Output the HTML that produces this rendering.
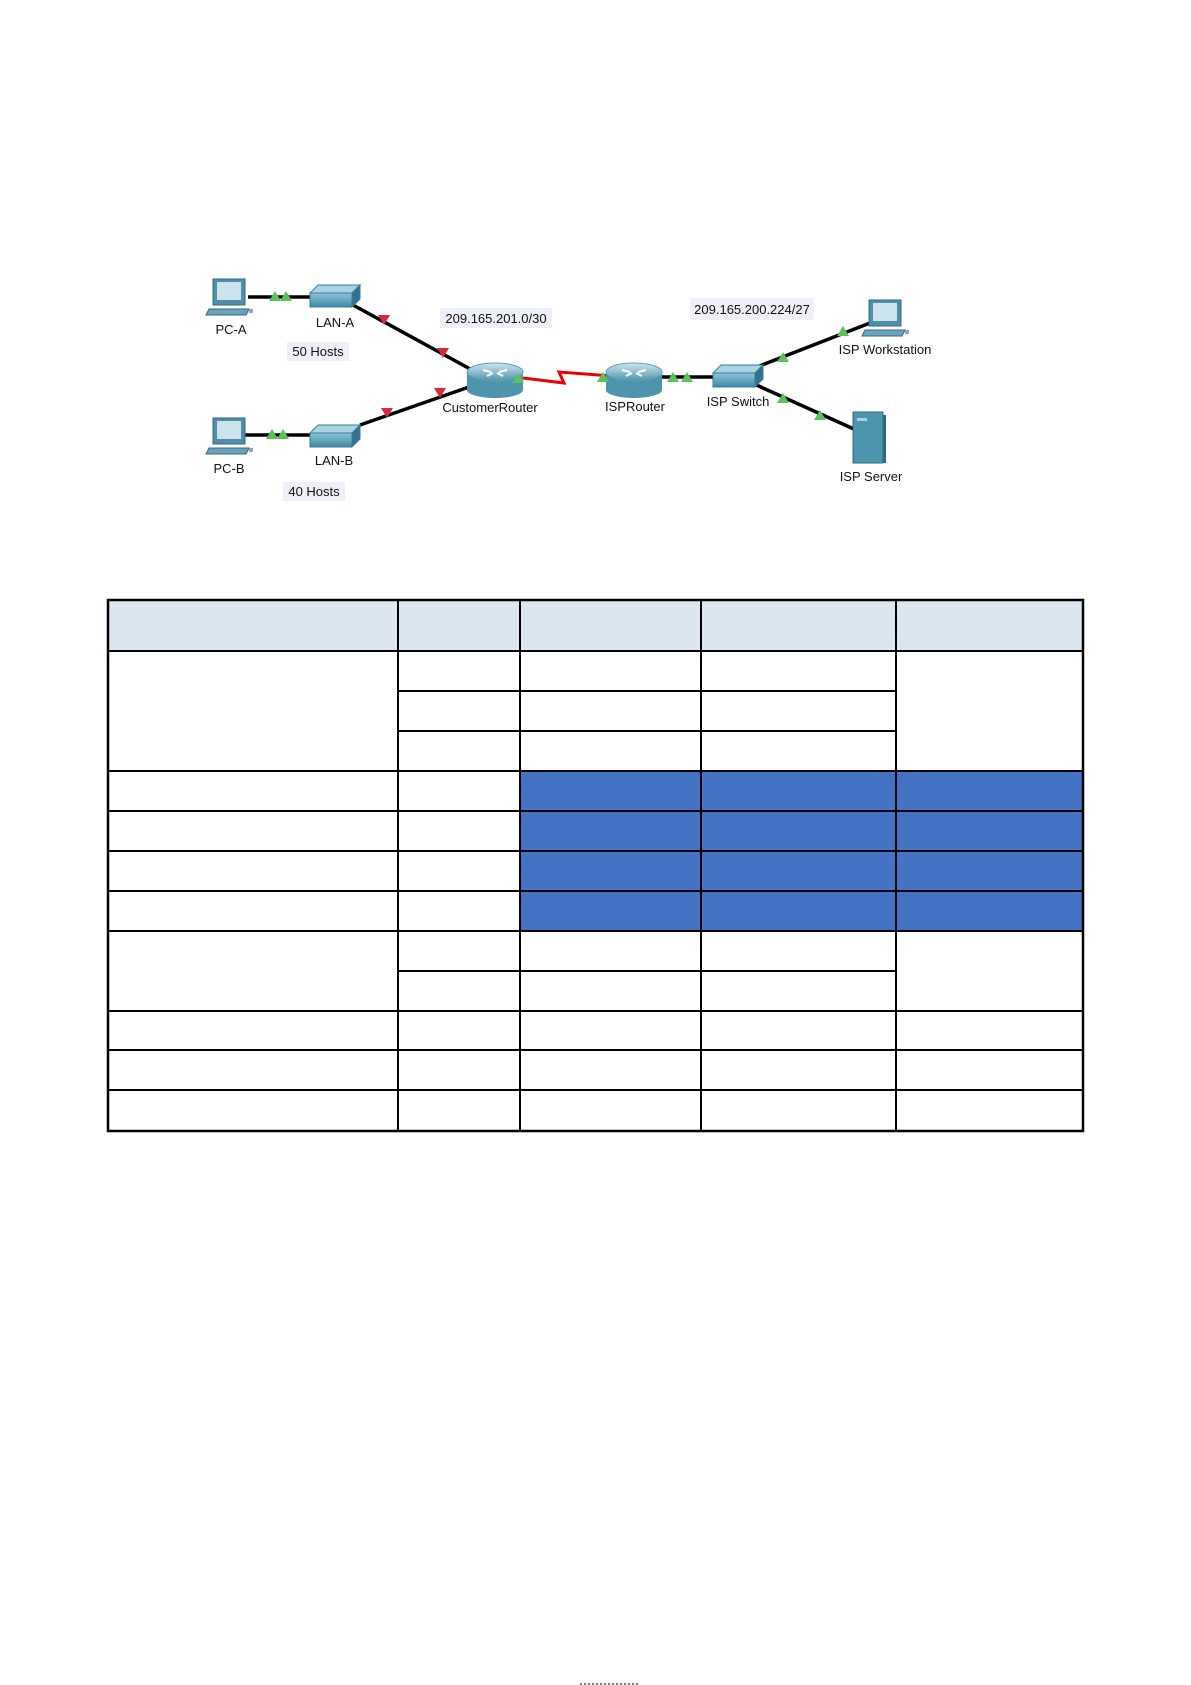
<!DOCTYPE html>
<html><head><meta charset="utf-8"><style>
html,body{margin:0;padding:0;background:#fff;}
body{width:1191px;height:1685px;position:relative;overflow:hidden;font-family:"Liberation Sans",sans-serif;}
svg{position:absolute;left:0;top:0;}
</style></head><body>
<svg width="1191" height="1685" viewBox="0 0 1191 1685" xmlns="http://www.w3.org/2000/svg" font-family="Liberation Sans, sans-serif">
<defs>
<linearGradient id="swg" x1="0" y1="0" x2="0" y2="1"><stop offset="0" stop-color="#8ec3d6"/><stop offset="1" stop-color="#3d8aa6"/></linearGradient>
<linearGradient id="rtg" x1="0" y1="0" x2="0" y2="1"><stop offset="0" stop-color="#cfe6ef"/><stop offset="1" stop-color="#4f94ad"/></linearGradient>
<g id="pcicon">
<rect x="0" y="0" width="32" height="26" fill="#4e8fa8" stroke="#2f6b82"/>
<rect x="4" y="3" width="24" height="18" fill="#cde3ec"/>
<polygon points="-4,30 36,30 33,36 -7,36" fill="#6aa3b9" stroke="#2f6b82"/>
<rect x="36" y="30" width="4" height="4" fill="#8ab"/>
</g>
<g id="swicon">
<polygon points="0,8 8,0 50,0 42,8" fill="#a9d3e2" stroke="#3b7d96"/>
<polygon points="0,8 42,8 42,22 0,22" fill="url(#swg)" stroke="#3b7d96"/>
<polygon points="42,8 50,0 50,14 42,22" fill="#2f7390" stroke="#3b7d96"/>
</g>
<g id="rticon">
<rect x="0" y="10" width="56" height="18" fill="#4f94ad"/>
<ellipse cx="28" cy="28" rx="28" ry="8" fill="#4f94ad"/>
<ellipse cx="28" cy="10" rx="28" ry="9" fill="url(#rtg)" stroke="#5d9db3"/>
<path d="M16 8 L24 10 M40 8 L32 10 M20 14 L26 11 M36 14 L30 11" stroke="#fff" stroke-width="2"/>
</g>
</defs>
<g stroke="#000" stroke-width="3.5">
<line x1="248" y1="297" x2="312" y2="297"/>
<line x1="245" y1="435" x2="310" y2="435"/>
<line x1="353" y1="305" x2="472" y2="370"/>
<line x1="360" y1="425" x2="469" y2="387"/>
<line x1="658" y1="377" x2="715" y2="377"/>
<line x1="757" y1="367" x2="870" y2="323"/>
<line x1="752" y1="383" x2="856" y2="430"/>
</g>
<path d="M523 378 L564 383 L559 372 L612 376" stroke="#e00" stroke-width="3" fill="none"/>
<use href="#pcicon" x="213" y="279"/>
<use href="#pcicon" x="213" y="418"/>
<use href="#pcicon" x="869" y="300"/>
<use href="#swicon" x="310" y="285"/>
<use href="#swicon" x="310" y="425"/>
<use href="#swicon" x="713" y="365"/>
<use href="#rticon" x="467" y="362"/>
<use href="#rticon" x="606" y="362"/>
<g>
<rect x="853" y="412" width="30" height="51" fill="#4d94ad" stroke="#2f6b82"/>
<rect x="883" y="415" width="3" height="48" fill="#2f6b82"/>
<rect x="857" y="418" width="10" height="3" fill="#a8d0de"/>
</g>
<g fill="#5cc15c">
<polygon points="275,291 269,301 281,301"/><polygon points="286,291 280,301 292,301"/>
<polygon points="272,429 266,439 278,439"/><polygon points="283,429 277,439 289,439"/>
<polygon points="518,373 512,383 524,383"/>
<polygon points="603,372 597,382 609,382"/>
<polygon points="673,372 667,382 679,382"/><polygon points="687,372 681,382 693,382"/>
<polygon points="783,352 777,362 789,362"/><polygon points="843,326 837,336 849,336"/>
<polygon points="783,393 777,403 789,403"/><polygon points="820,410 814,420 826,420"/>
</g>
<g fill="#d42a3a">
<polygon points="384,325 378,315 390,315"/><polygon points="443,358 437,348 449,348"/>
<polygon points="387,418 381,408 393,408"/><polygon points="440,398 434,388 446,388"/>
</g>
<g fill="#eef0f7">
<rect x="287" y="342" width="62" height="19"/>
<rect x="283" y="482" width="62" height="19"/>
<rect x="440" y="308" width="112" height="20"/>
<rect x="690" y="298" width="124" height="22"/>
</g>
<g font-size="13" fill="#111" text-anchor="middle">
<text x="231" y="334">PC-A</text>
<text x="229" y="473">PC-B</text>
<text x="335" y="327">LAN-A</text>
<text x="334" y="465">LAN-B</text>
<text x="318" y="356">50 Hosts</text>
<text x="314" y="496">40 Hosts</text>
<text x="496" y="323">209.165.201.0/30</text>
<text x="752" y="314">209.165.200.224/27</text>
<text x="490" y="412">CustomerRouter</text>
<text x="635" y="411">ISPRouter</text>
<text x="738" y="406">ISP Switch</text>
<text x="885" y="354">ISP Workstation</text>
<text x="871" y="481">ISP Server</text>
</g>
<rect x="108" y="600" width="975" height="51" fill="#dce6f1"/>
<rect x="520" y="771" width="563" height="160" fill="#4472c4"/>
<g stroke="#000" stroke-width="2" fill="none">
<rect x="108" y="600" width="975" height="531" stroke-width="2.5"/>
<line x1="108" y1="651" x2="1083" y2="651"/>
<line x1="398" y1="691" x2="896" y2="691"/>
<line x1="398" y1="731" x2="896" y2="731"/>
<line x1="108" y1="771" x2="1083" y2="771"/>
<line x1="108" y1="811" x2="1083" y2="811"/>
<line x1="108" y1="851" x2="1083" y2="851"/>
<line x1="108" y1="891" x2="1083" y2="891"/>
<line x1="108" y1="931" x2="1083" y2="931"/>
<line x1="398" y1="971" x2="896" y2="971"/>
<line x1="108" y1="1011" x2="1083" y2="1011"/>
<line x1="108" y1="1050" x2="1083" y2="1050"/>
<line x1="108" y1="1090" x2="1083" y2="1090"/>
<line x1="398" y1="600" x2="398" y2="1131"/>
<line x1="520" y1="600" x2="520" y2="1131"/>
<line x1="701" y1="600" x2="701" y2="1131"/>
<line x1="896" y1="600" x2="896" y2="1131"/>
</g>
<line x1="580" y1="1684" x2="640" y2="1684" stroke="#000" stroke-width="1" stroke-dasharray="2,2"/>
</svg>
</body></html>
